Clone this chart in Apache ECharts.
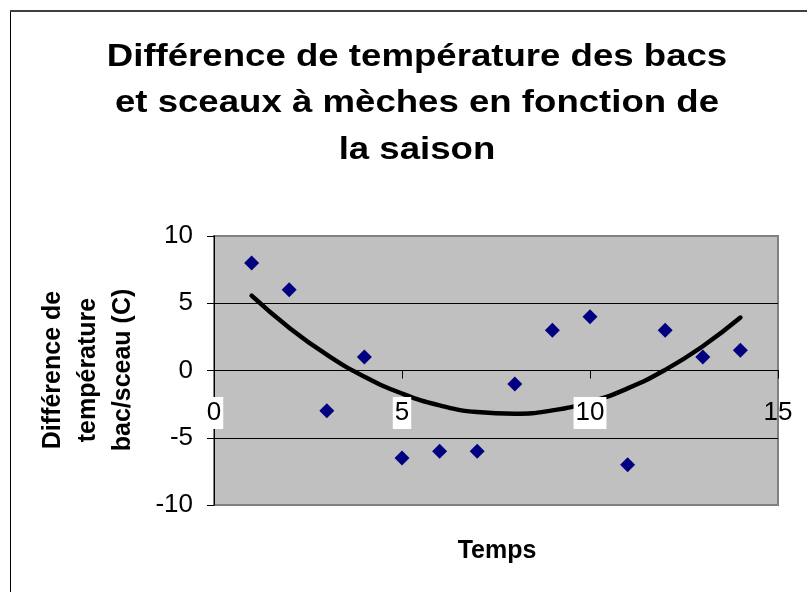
<!DOCTYPE html>
<html><head><meta charset="utf-8">
<script src="https://cdn.jsdelivr.net/npm/echarts@6/dist/echarts.min.js"></script>
<style>html,body{margin:0;padding:0;background:#fff}#c{width:807px;height:592px}</style>
</head><body><div id="c"></div>
<script>
// ---- data ----
const titleLines = ["Différence de température des bacs", "et sceaux à mèches en fonction de", "la saison"];
const xAxisTitle = "Temps";
const yAxisTitleLines = ["Différence de", "température", "bac/sceau (C)"];
const xValues = [1, 2, 3, 4, 5, 6, 7, 8, 9, 10, 11, 12, 13, 14];
const yValues = [8, 6, -3, 1, -6.5, -6, -6, -1, 3, 4, -7, 3, 1, 1.5];
const xTickLabels = [0, 5, 10, 15];
const yTickLabels = [-10, -5, 0, 5, 10];

// ---- polynomial (order 2) trendline, least squares on the data above ----
function quadFit(xs, ys) {
  const S = [0, 0, 0, 0, 0], T = [0, 0, 0];
  xs.forEach((x, i) => {
    for (let k = 0; k < 5; k++) S[k] += Math.pow(x, k);
    for (let k = 0; k < 3; k++) T[k] += Math.pow(x, k) * ys[i];
  });
  const A = [[S[0], S[1], S[2], T[0]], [S[1], S[2], S[3], T[1]], [S[2], S[3], S[4], T[2]]];
  for (let c = 0; c < 3; c++) {
    for (let r = c + 1; r < 3; r++) {
      const f = A[r][c] / A[c][c];
      for (let k = c; k < 4; k++) A[r][k] -= f * A[c][k];
    }
  }
  const p = [0, 0, 0];
  for (let r = 2; r >= 0; r--) {
    let s = A[r][3];
    for (let k = r + 1; k < 3; k++) s -= A[r][k] * p[k];
    p[r] = s / A[r][r];
  }
  return p;
}
const coef = quadFit(xValues, yValues);
const trendData = xValues.map(x => [x, coef[0] + coef[1] * x + coef[2] * x * x]);
const scatterData = xValues.map((x, i) => [x, yValues[i]]);

const FONT = "'Liberation Sans', Arial, sans-serif";
const xStep = xTickLabels[1] - xTickLabels[0];
const yStep = yTickLabels[1] - yTickLabels[0];

const chart = echarts.init(document.getElementById('c'), null, {renderer: 'canvas'});
chart.setOption({
  animation: false,
  backgroundColor: '#ffffff',
  grid: {
    left: 214, top: 236, width: 564, height: 269,
    show: true, backgroundColor: '#c0c0c0', borderColor: '#808080', borderWidth: 2
  },
  xAxis: {
    type: 'value', min: xTickLabels[0], max: xTickLabels[xTickLabels.length - 1], interval: xStep,
    z: 5,
    axisLine: {onZero: true, lineStyle: {color: '#000', width: 1}},
    axisTick: {show: true, length: 8, lineStyle: {color: '#000'}},
    splitLine: {show: false},
    axisLabel: {
      margin: -106,
      formatter: v => (v === xTickLabels[xTickLabels.length - 1] ? '{n|' + v + '}' : '{w|' + v + '}'),
      rich: {
        w: {fontFamily: FONT, fontSize: 26, color: '#000', backgroundColor: '#fff', padding: [3, 2, 3, 2], lineHeight: 28},
        n: {fontFamily: FONT, fontSize: 26, color: '#000', padding: [3, 2, 3, 2], lineHeight: 28}
      }
    }
  },
  yAxis: {
    type: 'value', min: yTickLabels[0], max: yTickLabels[yTickLabels.length - 1], interval: yStep,
    axisLine: {show: true, lineStyle: {color: '#000', width: 1}},
    axisTick: {show: true, length: 7, lineStyle: {color: '#000'}},
    splitLine: {show: true, lineStyle: {color: ['#808080', '#000', '#000', '#000', '#808080'], width: 1}},
    axisLabel: {margin: 21, fontFamily: FONT, fontSize: 26, color: '#000'}
  },
  graphic: [
    {type: 'line', shape: {x1: 10.5, y1: 11, x2: 10.5, y2: 600}, style: {stroke: '#000', lineWidth: 1}, silent: true},
    {type: 'line', shape: {x1: 10, y1: 11, x2: 807, y2: 11}, style: {stroke: '#404040', lineWidth: 2}, silent: true},
    {type: 'text', x: 417, y: 34, scaleX: 1.2, scaleY: 1,
      style: {text: titleLines.join('\n'), fontFamily: FONT, fontWeight: 'bold', fontSize: 30.5, lineHeight: 46.5,
        fill: '#000', textAlign: 'center', textVerticalAlign: 'top'}},
    {type: 'text', x: 88, y: 370, rotation: Math.PI / 2,
      style: {text: yAxisTitleLines.join('\n'), fontFamily: FONT, fontWeight: 'bold', fontSize: 25, lineHeight: 35,
        fill: '#000', textAlign: 'center', textVerticalAlign: 'middle'}},
    {type: 'text', x: 497, y: 551,
      style: {text: xAxisTitle, fontFamily: FONT, fontWeight: 'bold', fontSize: 25, fill: '#000',
        textAlign: 'center', textVerticalAlign: 'middle'}}
  ],
  series: [
    {type: 'scatter', data: scatterData, symbol: 'diamond', symbolSize: 15,
      itemStyle: {color: '#000080', opacity: 1}, z: 2},
    {type: 'line', data: trendData, smooth: true, showSymbol: false, symbol: 'none',
      lineStyle: {color: '#000', width: 4.5, cap: 'round'}, z: 3}
  ]
});
</script></body></html>
